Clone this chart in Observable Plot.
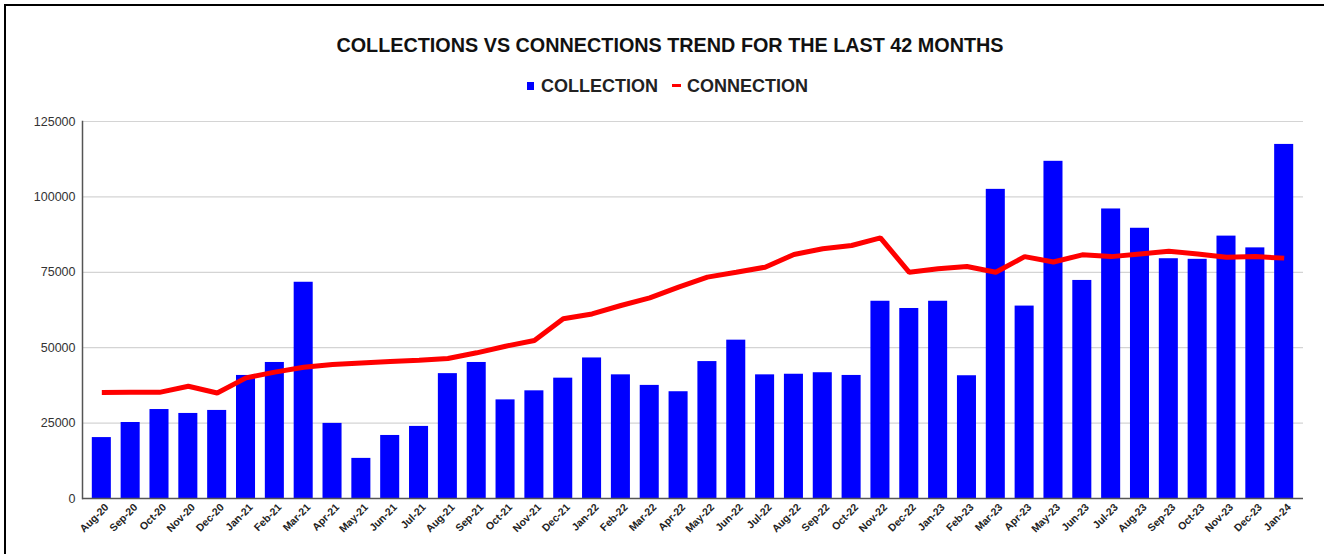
<!DOCTYPE html>
<html>
<head>
<meta charset="utf-8">
<script src="https://cdn.jsdelivr.net/npm/d3@7"></script>
<script src="https://cdn.jsdelivr.net/npm/@observablehq/plot@0.6"></script>
<style>
  html, body { margin: 0; padding: 0; background: #fff; }
  #wrap { position: relative; width: 1324px; height: 554px; overflow: hidden; background: #fff;
          font-family: "Liberation Sans", Arial, sans-serif; }
  #border { position: absolute; left: 4px; top: 4px; width: 1400px; height: 600px;
            border-top: 2px solid #000; border-left: 2px solid #000; }
  #title { position: absolute; left: 670px; top: 35px; transform: translateX(-50%);
           white-space: nowrap; font-weight: bold; font-size: 19.8px; line-height: 20px; color: #111; }
  #legend { position: absolute; left: 527px; top: 76px; height: 20px; white-space: nowrap;
            font-weight: bold; font-size: 18px; line-height: 20px; color: #222; }
  .sw { position: absolute; }
  .lt { position: absolute; top: 0; }
  #chart { position: absolute; left: 0; top: 100px; }
</style>
</head>
<body>
<div id="wrap">
  <div id="border"></div>
  <div id="title"></div>
  <div id="legend"></div>
  <div id="chart"></div>
</div>
<script>
const titleText = "COLLECTIONS VS CONNECTIONS TREND FOR THE LAST 42 MONTHS";
const seriesNames = ["COLLECTION", "CONNECTION"];
const seriesColors = ["#0000ff", "#ff0000"];

const months = ["Aug-20","Sep-20","Oct-20","Nov-20","Dec-20",
  "Jan-21","Feb-21","Mar-21","Apr-21","May-21","Jun-21","Jul-21","Aug-21","Sep-21","Oct-21","Nov-21","Dec-21",
  "Jan-22","Feb-22","Mar-22","Apr-22","May-22","Jun-22","Jul-22","Aug-22","Sep-22","Oct-22","Nov-22","Dec-22",
  "Jan-23","Feb-23","Mar-23","Apr-23","May-23","Jun-23","Jul-23","Aug-23","Sep-23","Oct-23","Nov-23","Dec-23",
  "Jan-24"];

const collection = [20200, 25200, 29500, 28200, 29200,
  40800, 45100, 71700, 24900, 13300, 20900, 23900, 41400, 45100, 32700, 35700, 39900,
  46600, 41000, 37500, 35400, 45400, 52500, 41000, 41200, 41700, 40800, 65400, 63000,
  65400, 40700, 102500, 63800, 111800, 72300, 96000, 89600, 79500, 79300, 87000, 83100,
  117400];

const connection = [35150, 35200, 35200, 37200, 35000,
  40000, 41900, 43500, 44400, 44900, 45400, 45800, 46400, 48300, 50500, 52400, 59600,
  61200, 64000, 66500, 70100, 73400, 75000, 76700, 80900, 82800, 83900, 86400, 75000,
  76200, 76900, 75000, 80200, 78400, 80800, 80200, 81100, 82000, 81100, 80000, 80200,
  79700];

const yTicks = [0, 25000, 50000, 75000, 100000, 125000];

const data = months.map((m, i) => ({month: m, collection: collection[i], connection: connection[i]}));

document.getElementById("title").textContent = titleText;

// legend
const legend = document.getElementById("legend");
legend.innerHTML =
  `<span class="sw" style="left:0px;top:6px;width:7px;height:8px;background:${seriesColors[0]}"></span>` +
  `<span class="lt" style="left:14px">${seriesNames[0]}</span>` +
  `<span class="sw" style="left:145px;top:8px;width:9px;height:3px;background:${seriesColors[1]}"></span>` +
  `<span class="lt" style="left:160px">${seriesNames[1]}</span>`;

const chart = Plot.plot({
  width: 1324,
  height: 454,
  marginTop: 21,
  marginBottom: 56,
  marginLeft: 82,
  marginRight: 21,
  style: {fontFamily: "'Liberation Sans', Arial, sans-serif", background: "transparent"},
  x: {domain: months, padding: 0.34, label: null},
  y: {domain: [0, 125000], label: null},
  marks: [
    Plot.gridY(yTicks, {stroke: "#d4d4d4", strokeOpacity: 1, strokeWidth: 1.2}),
    Plot.barY(data, {x: "month", y: "collection", fill: seriesColors[0]}),
    Plot.line(data, {x: "month", y: "connection", stroke: seriesColors[1], strokeWidth: 5, strokeLinejoin: "miter", strokeLinecap: "butt"}),
    Plot.ruleY([0], {stroke: "#555", strokeWidth: 1.5}),
    Plot.frame({anchor: "left", stroke: "#555", strokeWidth: 1.5}),
    Plot.axisY(yTicks, {tickSize: 0, tickPadding: 7, fontSize: 12.5, fill: "#333", tickFormat: d3.format("d"), label: null}),
    Plot.axisX({tickSize: 0, tickPadding: 7, dx: 5, tickRotate: -45, fontSize: 10.5, fontWeight: "bold", fill: "#222", label: null})
  ]
});
document.getElementById("chart").appendChild(chart);
</script>
</body>
</html>
